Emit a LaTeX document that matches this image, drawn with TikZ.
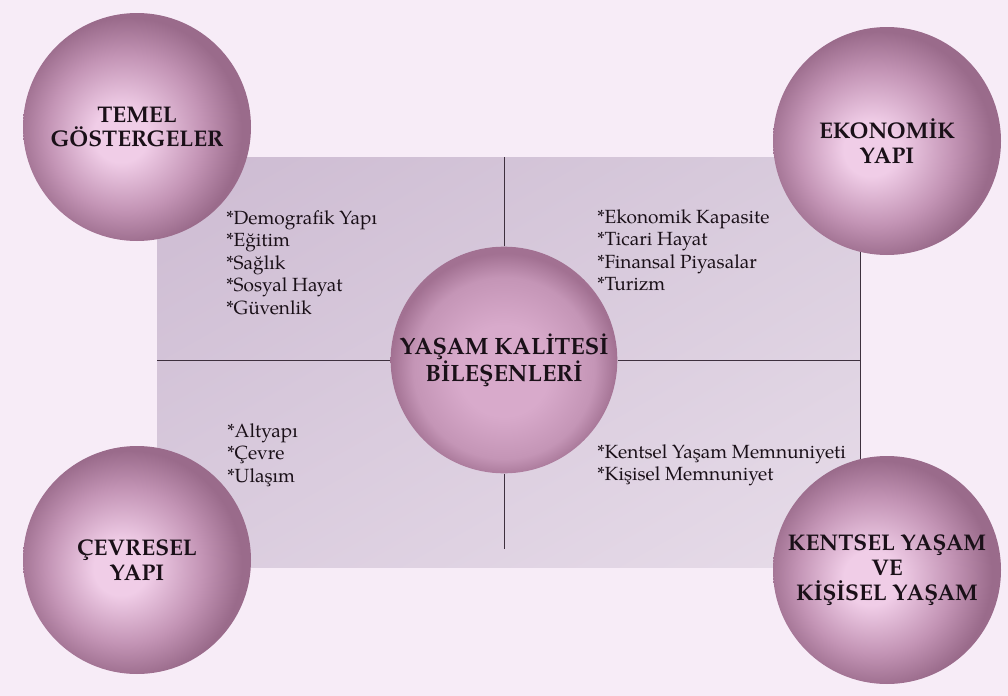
\documentclass[tikz,border=0pt]{standalone}
\usepackage{fontspec}
\setmainfont{texgyrepagella}[Extension=.otf, UprightFont=*-regular, BoldFont=*-bold]
\usetikzlibrary{positioning, shadings}

\definecolor{bgpink}{HTML}{F7ECF7}
\definecolor{inkdark}{HTML}{1A1018}
\definecolor{linedark}{HTML}{3E303E}
\definecolor{orbin}{HTML}{F0CDE7}
\definecolor{orbmid}{HTML}{C394B5}
\definecolor{orbout}{HTML}{9A6B8B}
\definecolor{corein}{HTML}{D8AACB}
\definecolor{coremid}{HTML}{C495B6}
\definecolor{coreout}{HTML}{A27192}
\definecolor{pnlUL}{HTML}{CDBBD2}
\definecolor{pnlUR}{HTML}{D9CCDD}
\definecolor{pnlLL}{HTML}{DACCDE}
\definecolor{pnlLR}{HTML}{E7DCE9}

\pgfdeclareradialshading{orbshade}{\pgfpoint{-4bp}{-2bp}}{color(0bp)=(orbin); color(6bp)=(orbin); color(17bp)=(orbmid); color(25bp)=(orbout); color(50bp)=(orbout)}
\pgfdeclareradialshading{coreshade}{\pgfpoint{0bp}{-3bp}}{color(0bp)=(corein); color(10bp)=(corein); color(20bp)=(coremid); color(25bp)=(coreout); color(50bp)=(coreout)}

\tikzset{
  orb/.style = {circle, shade, shading=orbshade, minimum size=171pt, inner sep=0pt,
    align=center, text=inkdark, font=\bfseries\fontsize{17}{18.6}\selectfont},
  core/.style = {circle, shade, shading=coreshade, minimum size=170pt, inner sep=0pt,
    align=center, text=inkdark, font=\bfseries\fontsize{17.7}{20.3}\selectfont},
  items/.style = {anchor=north west, inner sep=0pt, align=left, text=inkdark,
    font=\fontsize{14.3}{16.9}\selectfont},
  panel/.style = {rectangle, shade, upper left=pnlUL, upper right=pnlUR,
    lower left=pnlLL, lower right=pnlLR, minimum width=527pt, minimum height=308pt, inner sep=0pt},
  divider/.style = {draw=linedark, line width=0.7pt}
}

\begin{document}
\begin{tikzpicture}[x=0.75pt, y=-0.75pt]
\useasboundingbox (0,0) rectangle (1008,696);
\fill[bgpink] (0,0) rectangle (1008,696);

\node[panel] (pnl) at (508.5,362.5) {};
\node[core] (yk) at (504,360) {YAŞAM KALİTESİ\\BİLEŞENLERİ};

\draw[divider] (yk.north) -- (yk.north |- pnl.north);
\draw[divider, shorten >=14pt] (yk.south) -- (yk.south |- pnl.south);
\draw[divider] (yk.west) -- (yk.west -| pnl.west);
\draw[divider] (yk.east) -- (yk.east -| pnl.east);
\draw[divider] (pnl.north east) -- (pnl.south east);

\node[orb] (tg) at (137,127) {TEMEL\\GÖSTERGELER};
\node[orb] (ey) at (887,141) {EKONOMİK\\YAPI};
\node[orb] (cy) at (137,560) {ÇEVRESEL\\YAPI};
\node[orb] (ky) at (887,570) {KENTSEL YAŞAM\\VE\\KİŞİSEL YAŞAM};

\node[items] (tgl) at (226,210) {*Demografik Yapı\\*Eğitim\\*Sağlık\\*Sosyal Hayat\\*Güvenlik};
\node[items] (eyl) at (597,209) {*Ekonomik Kapasite\\*Ticari Hayat\\*Finansal Piyasalar\\*Turizm};
\node[items] (cyl) at (227,423) {*Altyapı\\*Çevre\\*Ulaşım};
\node[items] (kyl) at (597,444) {*Kentsel Yaşam Memnuniyeti\\*Kişisel Memnuniyet};
\end{tikzpicture}
\end{document}
